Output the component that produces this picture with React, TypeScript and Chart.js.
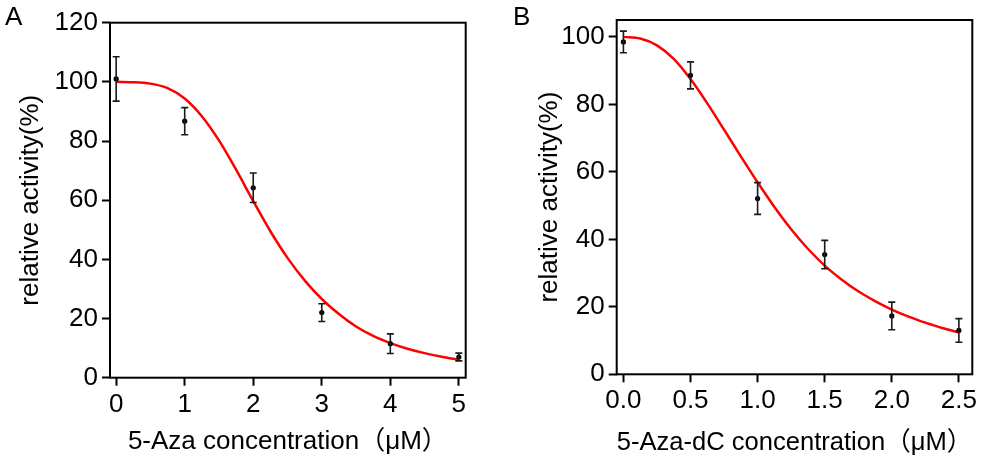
import React, { useEffect, useRef } from 'react';
import { Chart, registerables } from 'chart.js';

Chart.register(...registerables);

const FONT = "'Liberation Sans', Arial, 'Noto Sans CJK SC', sans-serif";

// ---------- Panel A : 5-Aza ----------
const concA = [0, 1, 2, 3, 4, 5];
const activityA = [101, 86.7, 64.2, 22.0, 11.5, 7.0];
const errorA = [7.5, 4.6, 5.0, 3.0, 3.3, 1.3];
const fitXA = [0, 0.25, 0.5, 0.75, 1, 1.25, 1.5, 1.75, 2, 2.25, 2.5, 2.75, 3, 3.25, 3.5, 3.75, 4, 4.25, 4.5, 4.75, 5];
const fitYA = [100, 99.9, 99.4, 97.9, 94.4, 88.4, 80.2, 70.3, 59.7, 49.5, 40.5, 32.9, 26.6, 21.5, 17.3, 14.1, 11.7, 9.8, 8.3, 7.1, 6.1];
const xTicksA = [0, 1, 2, 3, 4, 5];
const yTicksA = [0, 20, 40, 60, 80, 100, 120];

// ---------- Panel B : 5-Aza-dC ----------
const concB = [0, 0.5, 1.0, 1.5, 2.0, 2.5];
const activityB = [98.5, 88.6, 52.1, 35.5, 17.3, 13.0];
const errorB = [3.2, 4.0, 4.7, 4.2, 4.1, 3.5];
const fitXB = [0, 0.125, 0.25, 0.375, 0.5, 0.625, 0.75, 0.875, 1, 1.125, 1.25, 1.375, 1.5, 1.625, 1.75, 1.875, 2, 2.125, 2.25, 2.375, 2.5];
const fitYB = [100, 99.5, 97.5, 93.5, 87.5, 80.3, 72.5, 64.6, 56.9, 49.6, 43.0, 37.2, 32.2, 28.1, 24.6, 21.7, 19.2, 17.1, 15.3, 13.7, 12.4];
const xTicksB = [0, 0.5, 1.0, 1.5, 2.0, 2.5];
const yTicksB = [0, 20, 40, 60, 80, 100];

const yTitle = 'relative activity(%)';
const xTitleA = '5-Aza concentration（μM）';
const xTitleB = '5-Aza-dC concentration（μM）';

const errorBarPlugin = {
  id: 'errorBars',
  afterDatasetsDraw(chart: any, _args: any, opts: any) {
    const { ctx } = chart;
    const xs = chart.scales.x;
    const ys = chart.scales.y;
    const errs: number[] = opts.errors || [];
    const ds = chart.data.datasets[1];
    ctx.save();
    ctx.strokeStyle = '#1a1a1a';
    ctx.lineWidth = 1.6;
    ds.data.forEach((p: any, i: number) => {
      const px = xs.getPixelForValue(p.x);
      const top = ys.getPixelForValue(p.y + errs[i]);
      const bot = ys.getPixelForValue(p.y - errs[i]);
      ctx.beginPath();
      ctx.moveTo(px, top);
      ctx.lineTo(px, bot);
      ctx.moveTo(px - 3.5, top);
      ctx.lineTo(px + 3.5, top);
      ctx.moveTo(px - 3.5, bot);
      ctx.lineTo(px + 3.5, bot);
      ctx.stroke();
    });
    ctx.restore();
  },
};

const framePlugin = {
  id: 'frame',
  afterDraw(chart: any) {
    const { ctx, chartArea: a } = chart;
    ctx.save();
    ctx.strokeStyle = '#000';
    ctx.lineWidth = 2;
    ctx.strokeRect(a.left, a.top, a.right - a.left, a.bottom - a.top);
    ctx.restore();
  },
};

type PanelProps = {
  left: number;
  width: number;
  conc: number[];
  activity: number[];
  errors: number[];
  fitX: number[];
  fitY: number[];
  xTicks: number[];
  yTicks: number[];
  xMin: number;
  xMax: number;
  yMax: number;
  decimals: number;
  xTitle: string;
  yAxisWidth: number;
  xAxisHeight: number;
  yTitlePad: number;
  xTickPad: number;
  padding: { left: number; top: number; right: number; bottom: number };
};

const tickFont = { family: FONT, size: 26, lineHeight: 1.2 };
const titleFont = { family: FONT, size: 26, lineHeight: 1.2 };

function Panel(p: PanelProps) {
  const ref = useRef<HTMLCanvasElement | null>(null);
  useEffect(() => {
    if (!ref.current) return;
    const fit = p.fitX.map((x, i) => ({ x, y: p.fitY[i] }));
    const pts = p.conc.map((x, i) => ({ x, y: p.activity[i] }));
    const chart = new Chart(ref.current, {
      type: 'scatter',
      data: {
        datasets: [
          {
            data: fit,
            showLine: true,
            borderColor: '#ff0000',
            borderWidth: 2.5,
            pointRadius: 0,
            cubicInterpolationMode: 'monotone',
            order: 2,
          } as any,
          {
            data: pts,
            backgroundColor: '#000',
            borderColor: '#000',
            pointRadius: 2.6,
            pointBorderWidth: 0,
            order: 1,
          } as any,
        ],
      },
      options: {
        animation: false,
        responsive: false,
        events: [],
        layout: { padding: p.padding },
        plugins: {
          legend: { display: false },
          tooltip: { enabled: false },
          errorBars: { errors: p.errors },
        } as any,
        scales: {
          x: {
            type: 'linear',
            min: p.xMin,
            max: p.xMax,
            afterBuildTicks: (s: any) => {
              s.ticks = p.xTicks.map((v) => ({ value: v }));
            },
            afterFit: (s: any) => {
              s.height = p.xAxisHeight;
            },
            grid: {
              drawOnChartArea: false,
              drawTicks: true,
              tickLength: 8,
              tickWidth: 2,
              tickColor: '#000',
            },
            border: { display: false },
            ticks: {
              color: '#000',
              padding: p.xTickPad,
              maxRotation: 0,
              autoSkip: false,
              font: tickFont,
              callback: (v: any) => Number(v).toFixed(p.decimals),
            },
            title: {
              display: true,
              text: p.xTitle,
              color: '#000',
              padding: { top: 0, bottom: 0 },
              font: titleFont,
            },
          },
          y: {
            type: 'linear',
            min: 0,
            max: p.yMax,
            afterBuildTicks: (s: any) => {
              s.ticks = p.yTicks.map((v) => ({ value: v }));
            },
            afterFit: (s: any) => {
              s.width = p.yAxisWidth;
            },
            grid: {
              drawOnChartArea: false,
              drawTicks: true,
              tickLength: 8,
              tickWidth: 2,
              tickColor: '#000',
            },
            border: { display: false },
            ticks: {
              color: '#000',
              padding: 4,
              autoSkip: false,
              font: tickFont,
              callback: (v: any) => String(v),
            },
            title: {
              display: true,
              text: yTitle,
              color: '#000',
              padding: { top: p.yTitlePad, bottom: 0 },
              font: titleFont,
            },
          },
        },
      },
      plugins: [errorBarPlugin, framePlugin],
    } as any);
    return () => chart.destroy();
  }, []);
  return (
    <canvas
      ref={ref}
      width={p.width}
      height={461}
      style={{ position: 'absolute', left: p.left, top: 0, width: p.width, height: 461 }}
    />
  );
}

const letterStyle: React.CSSProperties = {
  position: 'absolute',
  fontFamily: FONT,
  fontSize: 26,
  lineHeight: '26px',
  color: '#000',
  top: 3,
};

export default function App() {
  return (
    <div style={{ position: 'absolute', left: 0, top: 0, width: 981, height: 461, background: '#fff', overflow: 'hidden' }}>
      <Panel
        left={0}
        width={490}
        conc={concA}
        activity={activityA}
        errors={errorA}
        fitX={fitXA}
        fitY={fitYA}
        xTicks={xTicksA}
        yTicks={yTicksA}
        xMin={-0.09}
        xMax={5.1}
        yMax={120}
        decimals={0}
        xTitle={xTitleA}
        yAxisWidth={110}
        xAxisHeight={79.6}
        yTitlePad={15.7}
        xTickPad={4}
        padding={{ left: 0, top: 22.7, right: 24.3, bottom: 3.7 }}
      />
      <Panel
        left={490}
        width={491}
        conc={concB}
        activity={activityB}
        errors={errorB}
        fitX={fitXB}
        fitY={fitYB}
        xTicks={xTicksB}
        yTicks={yTicksB}
        xMin={-0.05}
        xMax={2.6}
        yMax={105}
        decimals={1}
        xTitle={xTitleB}
        yAxisWidth={126.7}
        xAxisHeight={83.8}
        yTitlePad={44}
        xTickPad={3}
        padding={{ left: 0, top: 20, right: 8.7, bottom: 2.9 }}
      />
      <div style={{ ...letterStyle, left: 5 }}>A</div>
      <div style={{ ...letterStyle, left: 513 }}>B</div>
    </div>
  );
}
